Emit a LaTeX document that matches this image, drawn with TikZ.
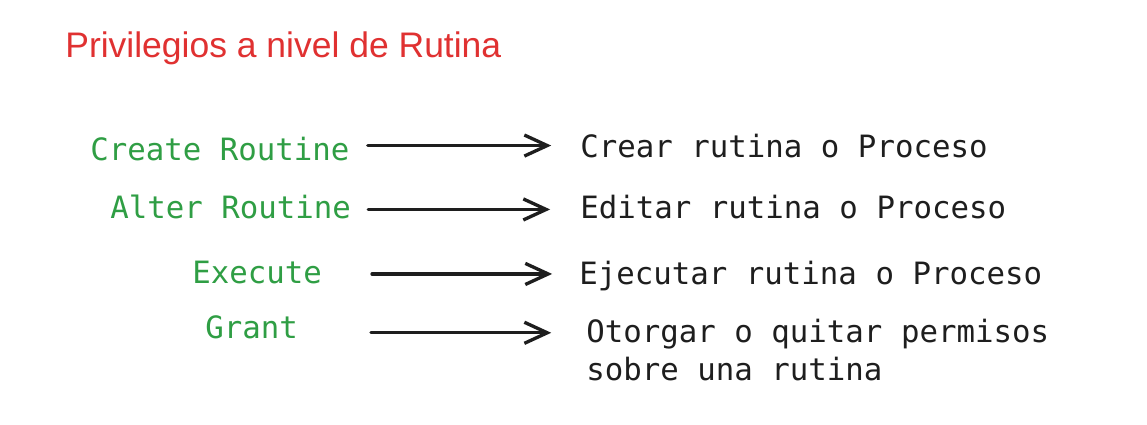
\documentclass[tikz,border=0pt]{standalone}
\usepackage{fontspec}
\setmainfont{Liberation Sans}
\newfontfamily\codefont{DejaVu Sans Mono}
\usetikzlibrary{arrows.meta}
\definecolor{RutinaRed}{HTML}{E03131}
\definecolor{RutinaGreen}{HTML}{2F9E44}
\definecolor{RutinaInk}{HTML}{1E1E1E}
\tikzset{
  priv/.style={anchor=base west, inner sep=0pt, text=RutinaGreen, font=\codefont\fontsize{17.5}{21.5}\selectfont},
  desc/.style={anchor=base west, inner sep=0pt, text=RutinaInk, align=left, font=\codefont\fontsize{17.5}{21.5}\selectfont},
  flecha/.style={draw=RutinaInk, line width=1.9pt, line cap=round, -{Straight Barb[length=13pt,width=12pt]}}
}

\begin{document}
\begin{tikzpicture}[x=0.02cm,y=-0.02cm]
\useasboundingbox[fill=white] (0,0) rectangle (1147,424);
\node[anchor=base west, inner sep=0pt, text=RutinaRed, font=\fontsize{20.2}{24}\selectfont] (titulo) at (65,57) {Privilegios a nivel de Rutina};
% privilegio -> descripcion
\foreach \i/\ly/\lx/\lab/\ry/\rx/\rlab/\ga/\gb/\dy in {
  1/160/90/{Create Routine}/157/580/{Crear rutina o Proceso}/10.2pt/16.4pt/1.7pt,
  2/218/110/{Alter Routine}/218/580/{Editar rutina o Proceso}/9.6pt/17pt/-1.7pt,
  3/283/192/{Execute}/284/579/{Ejecutar rutina o Proceso}/28.3pt/15.3pt/-1.1pt,
  4/338/205/{Grant}/380/586/{Otorgar o quitar permisos\\sobre una rutina}/41.4pt/19.8pt/-3.4pt} {
  \node[priv] (p\i) at (\lx,\ly) {\lab};
  \node[desc] (d\i) at (\rx,\ry) {\rlab};
  \draw[flecha, shorten <=\ga, shorten >=\gb] ([yshift=\dy]p\i.east) -- ([yshift=\dy]p\i.east -| d\i.west);
}
\end{tikzpicture}
\end{document}
